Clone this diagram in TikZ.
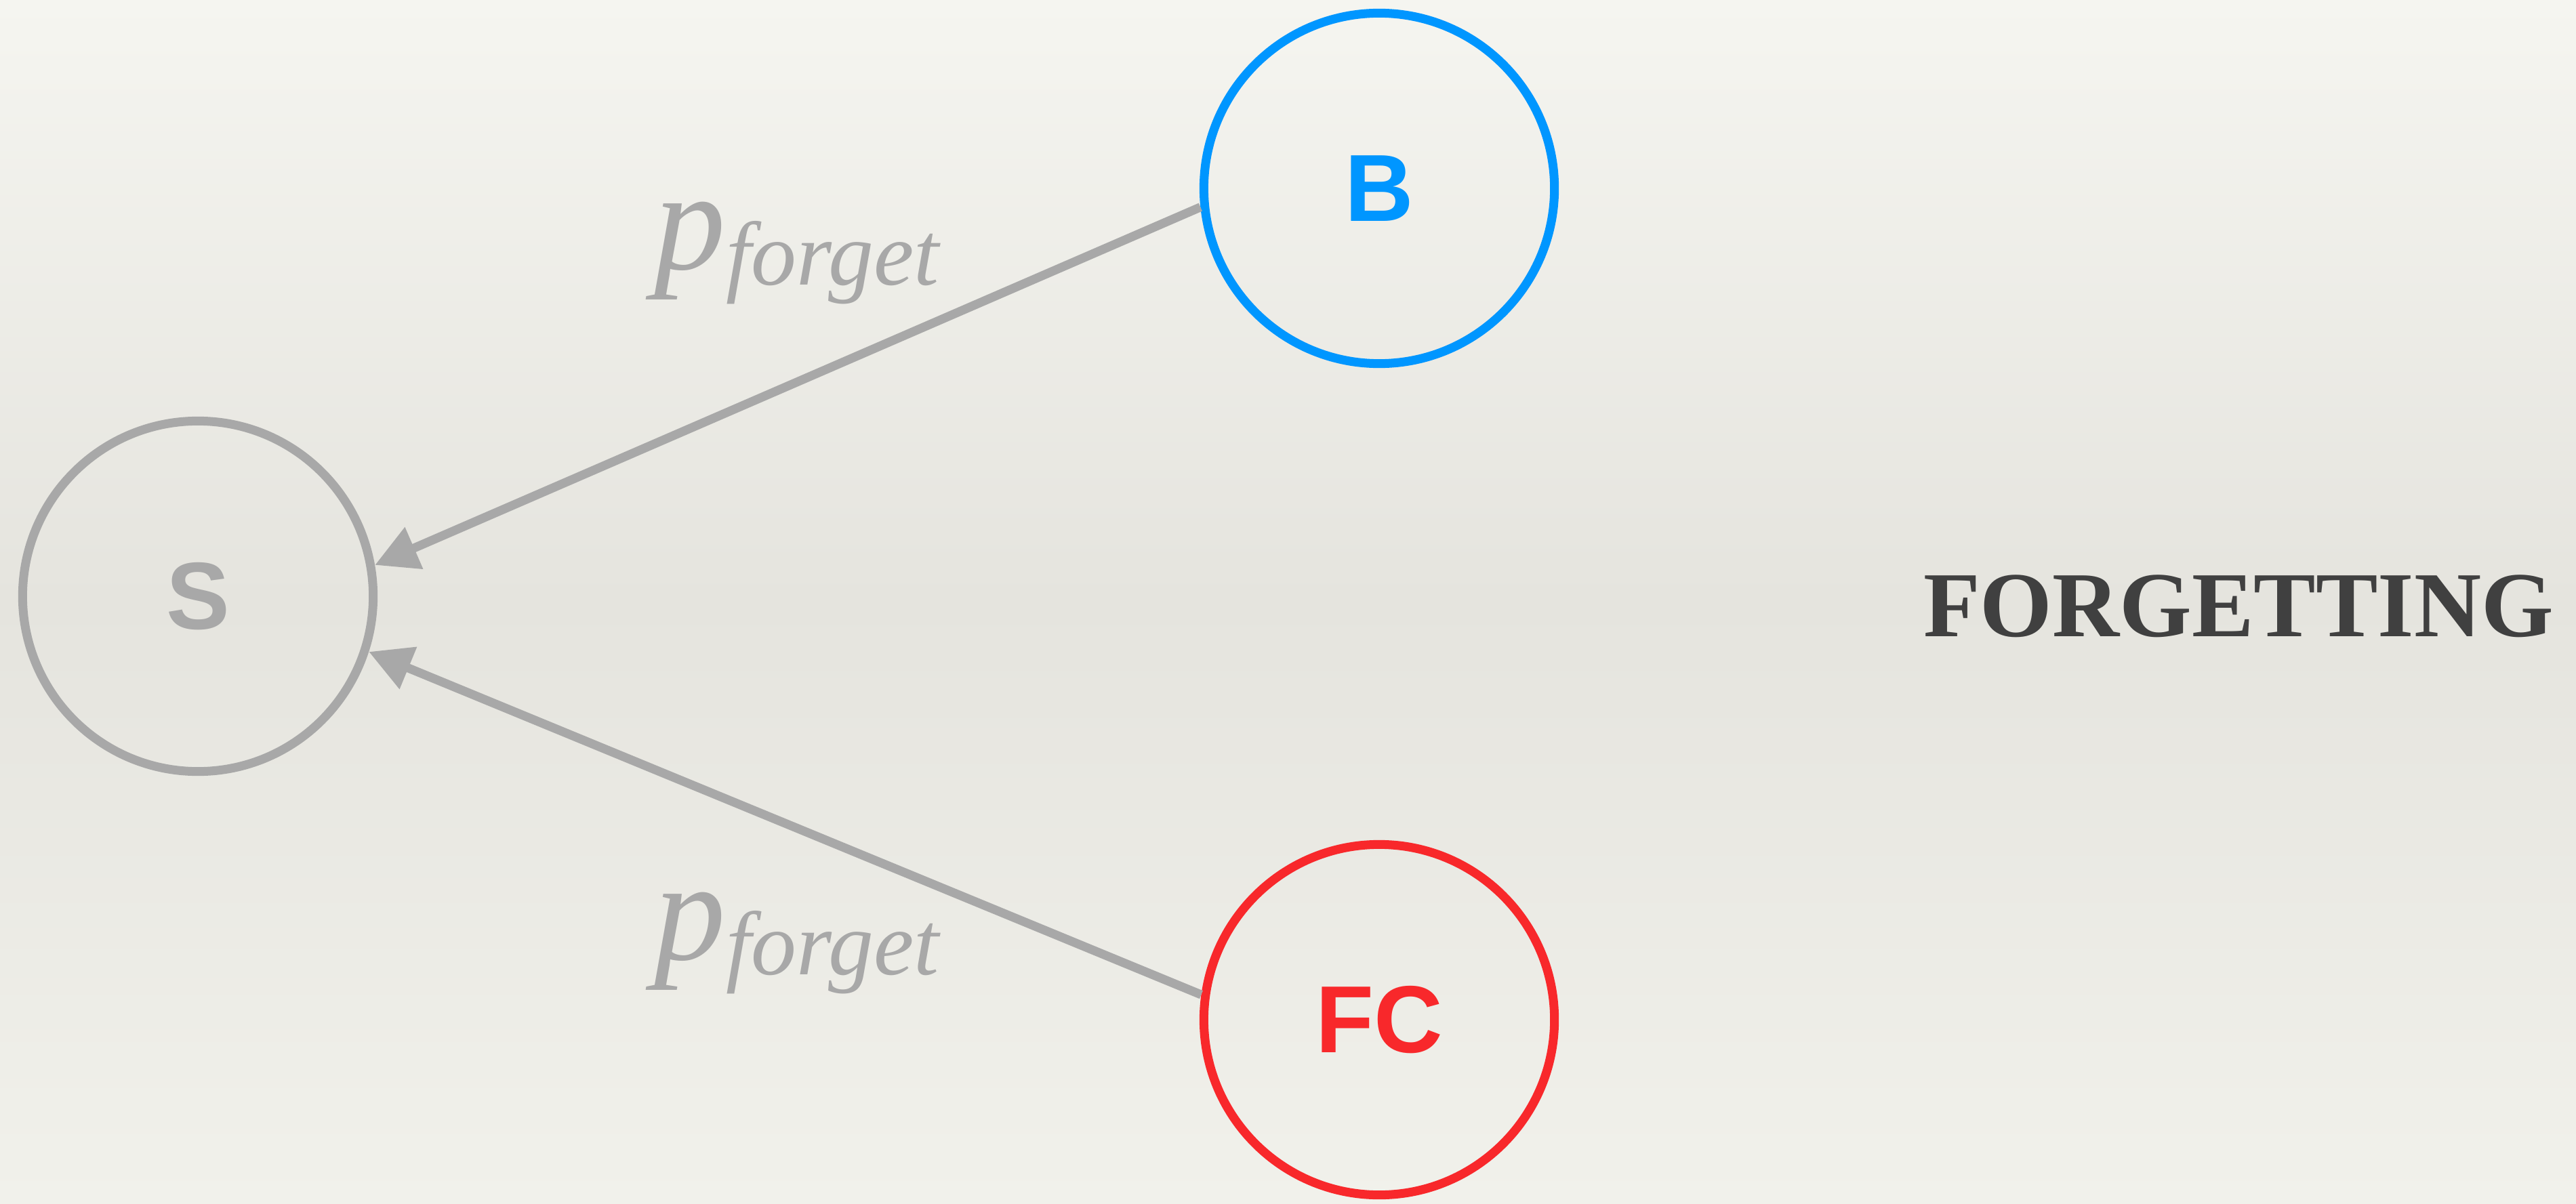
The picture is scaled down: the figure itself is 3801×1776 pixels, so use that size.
\documentclass[tikz,border=0pt]{standalone}
\usepackage{fontspec}
\newfontfamily\helv{Liberation Sans}
\newfontfamily\titlefont{Liberation Serif}
\usetikzlibrary{arrows.meta}
\definecolor{bgtop}{RGB}{245,245,240}
\definecolor{bgmid}{RGB}{229,228,222}
\definecolor{bgbot}{RGB}{241,241,235}
\definecolor{edgegray}{RGB}{168,168,168}
\definecolor{nodeblue}{RGB}{0,150,255}
\definecolor{nodered}{RGB}{248,40,43}
\definecolor{titlegray}{RGB}{64,64,64}
\newcommand{\pforget}{{\titlefont\fontsize{60}{64}\selectfont\itshape p}\raisebox{-0.22cm}{\titlefont\fontsize{38}{42}\selectfont\itshape forget}}
\begin{document}
\begin{tikzpicture}[x=0.01cm,y=-0.01cm,
  state/.style={circle, draw, line width=3.7pt, minimum size=5.17cm, inner sep=0pt,
    font=\helv\bfseries\fontsize{40}{44}\selectfont},
  edge/.style={draw=edgegray, line width=3.7pt, -{Triangle[length=6.3mm,width=6.4mm]}},
  prob/.style={text=edgegray, inner sep=0pt, anchor=base west},
  title/.style={text=titlegray, font=\titlefont\bfseries\fontsize{39}{44}\selectfont, inner sep=0pt, anchor=base}
]
\shade[top color=bgtop, bottom color=bgbot, middle color=bgmid] (0,0) rectangle (3801,1776);
\useasboundingbox (0,0) rectangle (3801,1776);

\node[state, draw=edgegray, text=edgegray] (S) at (292,880) {S};
\node[state, draw=nodeblue, text=nodeblue] (B) at (2035,278) {B};
\node[state, draw=nodered, text=nodered] (FC) at (2035,1505) {FC};

\draw[edge] (B.186) -- (S.10);
\draw[edge] (FC.172) -- (S.-18);

\node[prob] (p1) at (965,398) {\pforget};
\node[prob] (p2) at (965,1416) {\pforget};

\node[title] (t) at (3303,939) {FORGETTING};
\end{tikzpicture}
\end{document}
